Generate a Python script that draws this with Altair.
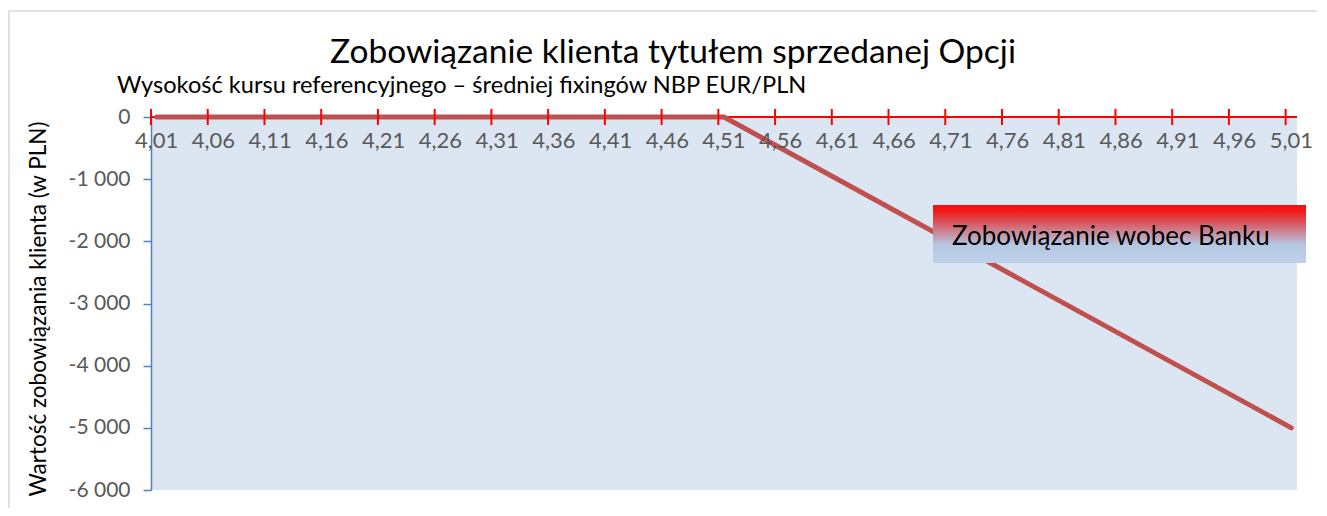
import altair as alt
import pandas as pd

# ---- data ----
rates = [4.01, 4.51, 5.01]          # EUR/PLN reference rate (kink points of the payoff)
values = [0, 0, -5000]              # client liability in PLN
tick_values = [4.01, 4.06, 4.11, 4.16, 4.21, 4.26, 4.31, 4.36, 4.41, 4.46, 4.51,
               4.56, 4.61, 4.66, 4.71, 4.76, 4.81, 4.86, 4.91, 4.96, 5.01]
tick_labels = ["4,01", "4,06", "4,11", "4,16", "4,21", "4,26", "4,31", "4,36", "4,41", "4,46", "4,51",
               "4,56", "4,61", "4,66", "4,71", "4,76", "4,81", "4,86", "4,91", "4,96", "5,01"]
y_ticks = [0, -1000, -2000, -3000, -4000, -5000, -6000]

title_text = "Zobowiązanie klienta tytułem sprzedanej Opcji"
subtitle_text = "Wysokość kursu referencyjnego – średniej fixingów NBP EUR/PLN"
y_title = "Wartość zobowiązania klienta (w PLN)"
box_text = "Zobowiązanie wobec Banku"

W, H = 1146, 373
FONT = "Lato"
X_DOMAIN = [4.005, 5.015]
HALF_CAT = W / (X_DOMAIN[1] - X_DOMAIN[0]) * 0.005   # half a category in pixels

line_df = pd.DataFrame({"rate": rates, "value": values})
ticks_df = pd.DataFrame({"rate": tick_values, "label": tick_labels})

xs = alt.Scale(domain=X_DOMAIN, nice=False, zero=False)
ys = alt.Scale(domain=[-6000, 0], nice=False)

base_y = alt.Y(
    "value:Q", scale=ys,
    axis=alt.Axis(
        values=y_ticks, title=None,
        labelExpr="replace(replace(format(datum.value, ',.0f'), ',', ' '), '\u2212', '-')",
        labelFont=FONT, labelFontSize=21, labelColor="#595959", labelPadding=13,
        domainColor="#4F81BD", domainWidth=1.5, tickColor="#4F81BD", tickWidth=1.5, tickSize=8,
        gridColor="#D9D9D9", gridWidth=1.2,
    ),
)

# red horizontal axis at value 0
axis_line = alt.Chart(line_df).mark_rule(color="#FF0000", strokeWidth=2).encode(
    y=alt.datum(0, scale=ys), x=alt.value(0), x2=alt.value(W)
)

payoff = alt.Chart(line_df).mark_line(color="#C0504D", strokeWidth=5, strokeCap="round").encode(
    x=alt.X("rate:Q", scale=xs, axis=None),
    y=base_y,
)

tick_marks = alt.Chart(ticks_df).mark_rule(color="#FF0000", strokeWidth=2, xOffset=-HALF_CAT).encode(
    x=alt.X("rate:Q", scale=xs, axis=None),
    y=alt.value(-8), y2=alt.value(8),
)

tick_text = alt.Chart(ticks_df).mark_text(
    font=FONT, fontSize=22, color="#595959", baseline="middle", align="center"
).encode(
    x=alt.X("rate:Q", scale=xs, axis=None),
    y=alt.value(24),
    text="label:N",
)

one = pd.DataFrame({"t": [title_text], "s": [subtitle_text], "y": [y_title], "b": [box_text]})

title = alt.Chart(one).mark_text(font=FONT, fontSize=33.5, color="#000000", align="center",
                                 baseline="alphabetic").encode(
    x=alt.value(522), y=alt.value(-54), text="t:N")
subtitle = alt.Chart(one).mark_text(font=FONT, fontSize=23.6, color="#000000", align="left",
                                    baseline="alphabetic").encode(
    x=alt.value(-34), y=alt.value(-24), text="s:N")
ytitle = alt.Chart(one).mark_text(font=FONT, fontSize=22.5, color="#000000", align="center",
                                  baseline="middle", angle=270).encode(
    x=alt.value(-112), y=alt.value(192), text="y:N")

gradient = alt.LinearGradient(
    gradient="linear", x1=0, y1=0, x2=0, y2=1,
    stops=[alt.GradientStop(offset=0, color="#FF0A0A"),
           alt.GradientStop(offset=0.12, color="#EE1E1E"),
           alt.GradientStop(offset=0.68, color="#B4C7E2"),
           alt.GradientStop(offset=1, color="#BFD1EA")],
)
box = alt.Chart(one).mark_rect(fill=gradient).encode(
    x=alt.value(782), x2=alt.value(1155), y=alt.value(88), y2=alt.value(146))
box_label = alt.Chart(one).mark_text(font=FONT, fontSize=26, color="#000000", align="left",
                                     baseline="alphabetic").encode(
    x=alt.value(801), y=alt.value(128), text="b:N")

# light chart-area border
border_top = alt.Chart(one).mark_rule(color="#D9D9D9", strokeWidth=1.5).encode(
    x=alt.value(-142), x2=alt.value(W + 40), y=alt.value(-106))
border_left = alt.Chart(one).mark_rule(color="#D9D9D9", strokeWidth=1.5).encode(
    x=alt.value(-142), y=alt.value(-106), y2=alt.value(H + 40))

chart = alt.layer(
    border_top, border_left, axis_line, payoff, tick_marks, tick_text,
    title, subtitle, ytitle, box, box_label,
).properties(
    width=W, height=H,
    padding={"left": 143, "top": 109, "right": 20, "bottom": 18},
    autosize=alt.AutoSizeParams(type="none"),
).configure_view(fill="#DCE6F2", stroke=None)

chart.save("out.html", embed_options={"renderer": "svg", "actions": False})
